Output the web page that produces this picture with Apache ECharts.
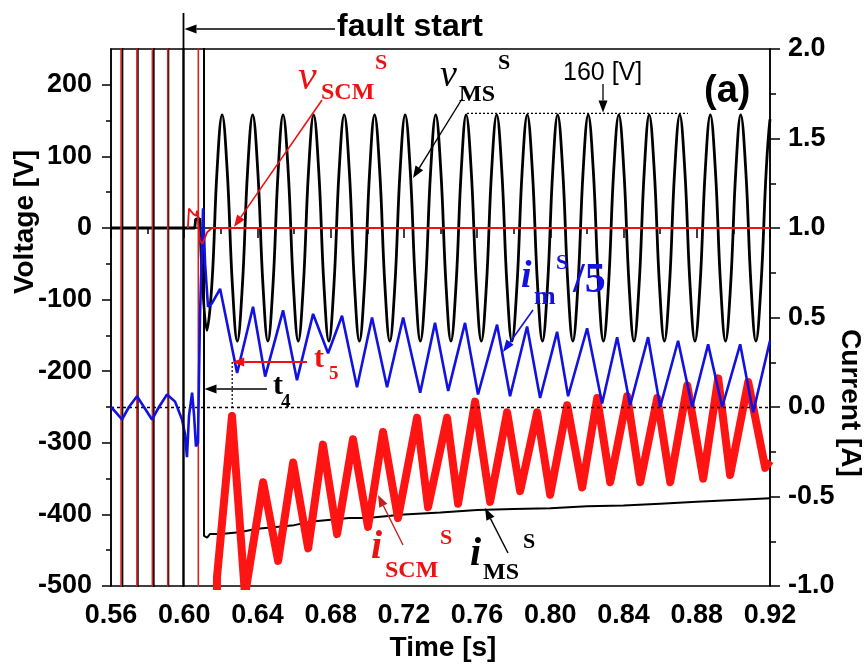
<!DOCTYPE html>
<html><head><meta charset="utf-8">
<script src="https://cdn.jsdelivr.net/npm/echarts@6/dist/echarts.min.js"></script>
<style>html,body{margin:0;padding:0;background:#fff}#c{width:866px;height:666px}</style>
</head><body><div id="c"></div>
<script>
// ---- tick labels ----
const voltTicks = [-500,-400,-300,-200,-100,0,100,200];
const voltMinorTicks = [-450,-350,-250,-150,-50,50,150];
// ---- v_MS^S (V), pre-fault and post-fault ----
const vmsPre = [[0.5600,0],[0.6058,0],[0.6062,12],[0.6085,14]];
const vmsPost = [[0.6085,14],[0.6124,-143],[0.6152,-75],[0.6179,79],
[0.6207,158],[0.6235,79],[0.6263,-79],[0.6290,-158],[0.6318,-79],[0.6346,79],
[0.6374,158],[0.6402,79],[0.6430,-79],[0.6457,-158],[0.6485,-79],[0.6513,79],
[0.6540,158],[0.6568,79],[0.6596,-79],[0.6623,-158],[0.6651,-79],[0.6679,79],
[0.6707,158],[0.6735,79],[0.6763,-79],[0.6790,-158],[0.6818,-79],[0.6846,79],
[0.6874,158],[0.6902,79],[0.6930,-79],[0.6957,-158],[0.6985,-79],[0.7013,79],
[0.7040,158],[0.7068,79],[0.7096,-79],[0.7123,-158],[0.7151,-79],[0.7179,79],
[0.7207,158],[0.7235,79],[0.7263,-79],[0.7290,-158],[0.7318,-79],[0.7346,79],
[0.7374,158],[0.7402,79],[0.7430,-79],[0.7457,-158],[0.7485,-79],[0.7513,79],
[0.7540,158],[0.7568,79],[0.7596,-79],[0.7623,-158],[0.7651,-79],[0.7679,79],
[0.7707,158],[0.7735,79],[0.7763,-79],[0.7790,-158],[0.7818,-79],[0.7846,79],
[0.7874,158],[0.7902,79],[0.7930,-79],[0.7957,-158],[0.7985,-79],[0.8013,79],
[0.8040,158],[0.8068,79],[0.8096,-79],[0.8123,-158],[0.8151,-79],[0.8179,79],
[0.8207,158],[0.8235,79],[0.8263,-79],[0.8290,-158],[0.8318,-79],[0.8346,79],
[0.8374,158],[0.8402,79],[0.8430,-79],[0.8457,-158],[0.8485,-79],[0.8513,79],
[0.8540,158],[0.8568,79],[0.8596,-79],[0.8623,-158],[0.8651,-79],[0.8679,79],
[0.8707,158],[0.8735,79],[0.8763,-79],[0.8790,-158],[0.8818,-79],[0.8846,79],
[0.8874,158],[0.8902,79],[0.8930,-79],[0.8957,-158],[0.8985,-79],[0.9013,79],
[0.9040,158],[0.9068,79],[0.9096,-79],[0.9123,-158],[0.9151,-79],[0.9179,79],
[0.9200,152]];
// ---- v_SCM^S (V) ----
const vScm = [[0.6020,0],[0.6026,27],[0.6048,20],[0.6064,17],[0.6070,24],[0.6086,-18],[0.6100,-22],[0.6125,-6],[0.6152,0],[0.9200,0]];
// ---- i_m^S/5 (A) ----
const iM = [[0.5600,0.00],[0.5627,-0.03],[0.5660,-0.07],[0.5698,0.00],[0.5742,0.06],[0.5780,0.00],[0.5824,-0.07],[0.5862,0.00],[0.5906,0.07],[0.5950,0.03],[0.5988,-0.07],[0.6004,-0.15],[0.6015,-0.28],[0.6026,-0.05],[0.6043,0.08],[0.6054,-0.05],[0.6064,-0.22],[0.6075,-0.20],[0.6086,0.50],[0.6103,1.11],[0.6114,0.80],[0.6130,0.56],[0.6152,0.58],[0.6196,0.66],[0.6289,0.19],[0.6376,0.56],[0.6442,0.17],[0.6540,0.54],[0.6616,0.15],[0.6704,0.52],[0.6786,0.30],[0.6862,0.51],[0.6944,0.11],[0.7026,0.50],[0.7108,0.11],[0.7196,0.50],[0.7289,0.08],[0.7370,0.47],[0.7442,0.09],[0.7534,0.47],[0.7605,0.07],[0.7709,0.46],[0.7780,0.06],[0.7873,0.45],[0.7944,0.05],[0.8037,0.42],[0.8097,0.06],[0.8201,0.44],[0.8283,0.02],[0.8365,0.39],[0.8436,0.01],[0.8534,0.39],[0.8600,0.00],[0.8698,0.37],[0.8775,0.00],[0.8862,0.35],[0.8939,0.00],[0.9037,0.35],[0.9108,-0.03],[0.9200,0.37]];
// ---- i_MS^S (A): off-scale spikes, then trace ----
const iMs = [[0.5662,-5],[0.5662,5],[0.5746,5],[0.5746,-5],[0.5833,-5],[0.5833,5],[0.5913,5],[0.5913,-5],[0.5996,-5],[0.5996,5],[0.6108,5],[0.6108,-0.72],[0.6125,-0.73],[0.6140,-0.71],[0.6200,-0.71],[0.6300,-0.70],[0.6400,-0.68],[0.6500,-0.67],[0.6600,-0.66],[0.6700,-0.64],[0.6800,-0.63],[0.6900,-0.62],[0.7000,-0.62],[0.7200,-0.60],[0.7400,-0.59],[0.7600,-0.575],[0.7800,-0.57],[0.8000,-0.565],[0.8200,-0.555],[0.8400,-0.55],[0.8600,-0.54],[0.8800,-0.53],[0.9000,-0.52],[0.9200,-0.51]];
// ---- i_SCM^S (A): off-scale spikes, then noisy band ----
const iScmSpikes = [[0.5655,5],[0.5655,-5],[0.5742,-5],[0.5742,5],[0.5826,5],[0.5826,-5],[0.5910,-5],[0.5910,5],[0.6077,5],[0.6077,-5]];
const iScm = [[0.6165,-5],[0.6179,-0.95],[0.6261,-0.05],[0.6332,-1.05],[0.6431,-0.42],[0.6513,-0.86],[0.6595,-0.31],[0.6677,-0.79],[0.6758,-0.21],[0.6835,-0.71],[0.6922,-0.18],[0.7004,-0.67],[0.7086,-0.14],[0.7168,-0.62],[0.7272,-0.06],[0.7332,-0.56],[0.7436,-0.06],[0.7496,-0.54],[0.7589,0.03],[0.7671,-0.53],[0.7764,-0.03],[0.7835,-0.47],[0.7928,-0.03],[0.7999,-0.49],[0.8092,0.01],[0.8174,-0.45],[0.8256,0.05],[0.8327,-0.42],[0.8420,0.06],[0.8491,-0.42],[0.8584,0.05],[0.8655,-0.42],[0.8748,0.12],[0.8835,-0.40],[0.8917,0.16],[0.8982,-0.38],[0.9081,0.14],[0.9174,-0.34],[0.9200,-0.30]];
const faultT = 0.5996;

const SANS = '"Liberation Sans", Arial, sans-serif';
const SERIF = '"Liberation Serif", "Times New Roman", serif';
const RED = '#ee1111', BLUE = '#1212e0', BLACK = '#000';

const chart = echarts.init(document.getElementById('c'), null, {renderer:'canvas'});
const lab = {color:'#000', fontSize:27, fontWeight:'bold', fontFamily:SANS};
const axLine = {show:true, lineStyle:{color:'#000', width:1.5}};
chart.setOption({
  animation:false,
  backgroundColor:'#fff',
  grid:{left:111, right:96, top:49, bottom:80, show:true, borderColor:'#000', borderWidth:1.5},
  xAxis:{type:'value', min:0.56, max:0.92, interval:0.04,
    axisLine:axLine, splitLine:{show:false},
    axisTick:{length:10, lineStyle:{width:1.5,color:'#000'}},
    minorTick:{show:true, splitNumber:2, length:6, lineStyle:{width:1.5,color:'#000'}},
    axisLabel:Object.assign({margin:16, formatter:v=>v.toFixed(2)}, lab)},
  yAxis:[
    {type:'value', position:'left', min:-500, max:250, interval:100,
      axisLine:axLine, splitLine:{show:false},
      axisTick:{length:9, customValues:voltTicks, lineStyle:{width:1.5,color:'#000'}},
      axisLabel:Object.assign({margin:19, customValues:voltTicks, formatter:v=>(v>200?'':String(v))}, lab)},
    {type:'value', position:'right', min:-1, max:2, interval:0.5,
      axisLine:axLine, splitLine:{show:false},
      axisTick:{length:10, lineStyle:{width:1.5,color:'#000'}},
      minorTick:{show:true, splitNumber:2, length:6, lineStyle:{width:1.5,color:'#000'}},
      axisLabel:Object.assign({margin:18, formatter:v=>v.toFixed(1)}, lab)},
    {type:'value', position:'left', min:-500, max:250,
      axisLine:{show:false}, splitLine:{show:false}, axisLabel:{show:false},
      axisTick:{length:5, customValues:voltMinorTicks, lineStyle:{width:1.5,color:'#000'}}}
  ],
  series:[
    {type:'line', name:'vMSpre', yAxisIndex:0, data:vmsPre, showSymbol:false, lineStyle:{color:BLACK,width:2.8}, z:2},
    {type:'line', name:'vMS', yAxisIndex:0, data:vmsPost, smooth:0.4, showSymbol:false, lineStyle:{color:BLACK,width:2.8}, z:2},
    {type:'line', name:'iMS', yAxisIndex:1, data:iMs, showSymbol:false, lineStyle:{color:BLACK,width:2}, z:3},
    {type:'line', name:'iSCM', yAxisIndex:1, data:iScm, showSymbol:false, lineStyle:{color:'#ff1414',width:8, join:'round'}, z:4},
    {type:'line', name:'iSCMspk', yAxisIndex:1, data:iScmSpikes, showSymbol:false, lineStyle:{color:'#d42222',width:1.6}, z:4},
    {type:'line', name:'im', yAxisIndex:1, data:iM, showSymbol:false, lineStyle:{color:BLUE,width:2.6}, z:5,
      markLine:{silent:true, symbol:'none', label:{show:false}, lineStyle:{color:'#000', type:[3,3], width:1.3}, data:[{yAxis:0}]}},
    {type:'line', name:'vSCM', yAxisIndex:0, data:vScm, showSymbol:false, lineStyle:{color:RED,width:1.8}, z:6}
  ]
});

function arrow(x1,y1,x2,y2,color,w){
  const a=Math.atan2(y2-y1,x2-x1), L=12, H=4.5;
  const bx=x2-L*Math.cos(a), by=y2-L*Math.sin(a);
  const px=-Math.sin(a)*H, py=Math.cos(a)*H;
  return [
    {type:'line', z:100, silent:true, shape:{x1:x1,y1:y1,x2:bx,y2:by}, style:{stroke:color,lineWidth:w}},
    {type:'polygon', z:100, silent:true, shape:{points:[[x2,y2],[bx+px,by+py],[bx-px,by-py]]}, style:{fill:color}}
  ];
}
function txt(s,x,y,font,color,extra){
  return Object.assign({type:'text', z:101, silent:true, x:x, y:y,
    style:{text:s, font:font, fill:color, align:'left', verticalAlign:'middle'}}, extra||{});
}
const xf = chart.convertToPixel({xAxisIndex:0}, faultT);
const y160 = chart.convertToPixel({yAxisIndex:0}, 160);
const t5x = chart.convertToPixel({xAxisIndex:0}, 0.6262);
const y0 = chart.convertToPixel({yAxisIndex:1}, 0);
const g = [];
// fault start
g.push({type:'line', z:100, silent:true, shape:{x1:xf,y1:13,x2:xf,y2:586}, style:{stroke:'#000',lineWidth:1.8}});
g.push(...arrow(335,29,xf+1,29,'#000',1.6));
g.push(txt('fault start',337,27,'bold 32px '+SANS,'#000'));
// v_SCM^S
g.push(txt('v',298,78,'italic 42px '+SERIF,RED));
g.push(txt('SCM',321,93,'bold 24px '+SERIF,RED));
g.push(txt('S',375,63,'bold 22px '+SERIF,RED));
g.push(...arrow(322,100,234,227,RED,1.6));
// v_MS^S
g.push(txt('v',440,76,'italic 38px '+SERIF,'#000'));
g.push(txt('MS',459,95,'bold 24px '+SERIF,'#000'));
g.push(txt('S',498,63,'bold 22px '+SERIF,'#000'));
g.push(...arrow(462,99,413,178,'#000',1.4));
// 160 [V]
g.push(txt('160 [V]',563,73,'25px '+SANS,'#000'));
g.push(...arrow(603,84,603,y160-1,'#000',1.3));
g.push({type:'line', z:100, silent:true, shape:{x1:467,y1:y160,x2:688,y2:y160}, style:{stroke:'#000',lineWidth:1.2,lineDash:[2,2]}});
// (a)
g.push(txt('(a)',704,92,'bold 38px '+SANS,'#000'));
// i_m^S/5
g.push(txt('i',521,277,'italic bold 38px '+SERIF,BLUE));
g.push(txt('m',534,297,'bold 26px '+SERIF,BLUE));
g.push(txt('S',556,263,'bold 22px '+SERIF,BLUE));
g.push(txt('/5',573,281,'bold 42px '+SERIF,BLUE));
g.push(...arrow(533,310,503,352,BLUE,1.6));
// t5
g.push(...arrow(307,362,t5x,362,RED,1.8));
g.push(txt('t',314,359,'bold 30px '+SERIF,RED));
g.push(txt('5',329,374,'bold 19px '+SERIF,RED));
g.push({type:'line', z:100, silent:true, shape:{x1:t5x,y1:362,x2:t5x,y2:y0}, style:{stroke:'#000',lineWidth:1.2,lineDash:[2,2]}});
// t4
g.push(...arrow(267,389,xf+21,389,'#000',1.6));
g.push(txt('t',273,386,'bold 30px '+SERIF,'#000'));
g.push(txt('4',281,402,'bold 19px '+SERIF,'#000'));
// i_SCM^S
g.push(txt('i',371,548,'italic bold 40px '+SERIF,RED));
g.push(txt('SCM',385,571,'bold 24px '+SERIF,RED));
g.push(txt('S',440,538,'bold 22px '+SERIF,RED));
g.push(...arrow(403,545,378,495,'#c22020',1.4));
// i_MS^S
g.push(txt('i',470,555,'italic bold 40px '+SERIF,'#000'));
g.push(txt('MS',483,573,'bold 24px '+SERIF,'#000'));
g.push(txt('S',523,542,'bold 22px '+SERIF,'#000'));
g.push(...arrow(508,553,485,508,'#000',1.4));
// axis titles
g.push(txt('Voltage [V]',25,222,'bold 28px '+SANS,'#000',{rotation:Math.PI/2, style:{text:'Voltage [V]',font:'bold 28px '+SANS,fill:'#000',align:'center',verticalAlign:'middle'}}));
g.push(txt('Current [A]',850,403,'bold 28px '+SANS,'#000',{rotation:-Math.PI/2, style:{text:'Current [A]',font:'bold 28px '+SANS,fill:'#000',align:'center',verticalAlign:'middle'}}));
g.push(txt('Time [s]',443,648,'bold 28px '+SANS,'#000',{style:{text:'Time [s]',font:'bold 28px '+SANS,fill:'#000',align:'center',verticalAlign:'middle'}}));
chart.setOption({graphic:g});
</script>
</body></html>
